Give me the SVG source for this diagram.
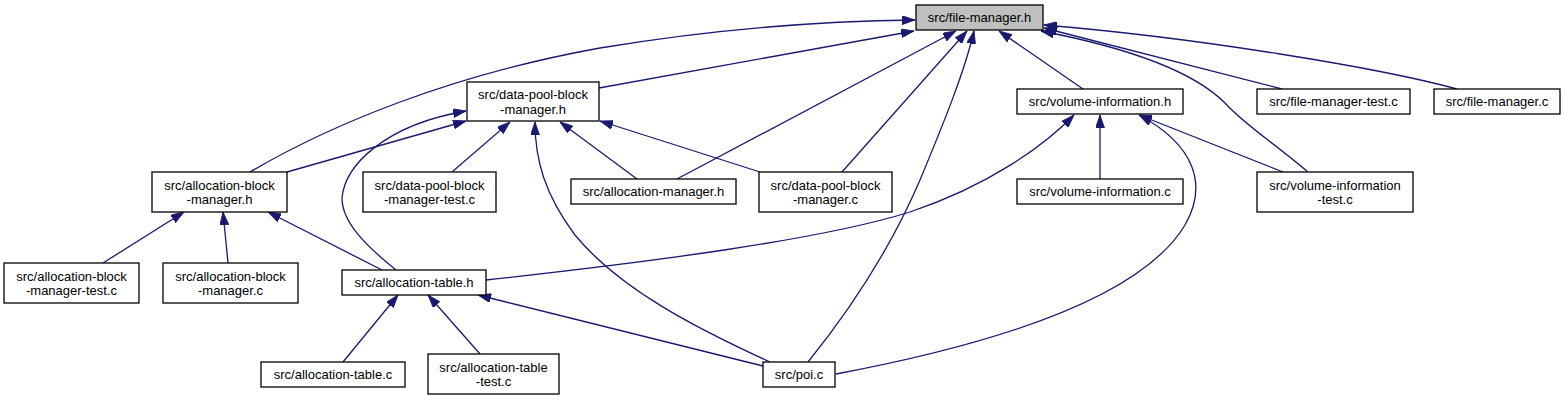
<svg xmlns="http://www.w3.org/2000/svg" width="1565" height="400" viewBox="0 0 1565 400">
<style>
.n rect{fill:#ffffff;stroke:#000000;stroke-width:1.3}
.n.hl rect{fill:#bfbfbf}
.n text{font-family:"Liberation Sans",Arial,sans-serif;font-size:13px;fill:#000000;text-anchor:middle}
.e path{fill:none;stroke:#191970;stroke-width:1.3;marker-end:url(#ah)}
</style>
<defs>
<marker id="ah" markerUnits="userSpaceOnUse" viewBox="0 0 13 9" refX="13" refY="4.5" markerWidth="13" markerHeight="9" orient="auto">
<path d="M0,0 L13,4.5 L0,9 z" fill="#191970" stroke="#191970" stroke-width="0.8"/>
</marker>
</defs>
<rect width="1565" height="400" fill="#ffffff"/>
<g id="edges" class="e">
<path d="M599,88 L914,31"/>
<path d="M250,172 C330,125 450,75 600,48 C720,28 830,21 915,20"/>
<path d="M677,179 L956,31"/>
<path d="M842,172 L967,31"/>
<path d="M808,362 C850,310 890,250 920,180 C945,120 965,70 974,31"/>
<path d="M1083,89 L999,31"/>
<path d="M1282,89 L1044,28"/>
<path d="M1457,89 C1380,68 1200,38 1044,25"/>
<path d="M1308,172 C1270,140 1245,125 1225,103 C1200,78 1150,52 1041,31"/>
<path d="M287,172 L466,121"/>
<path d="M452,172 L510,122"/>
<path d="M637,179 L560,122"/>
<path d="M760,172 L600,121"/>
<path d="M396,270 C365,245 342,222 342,198 C345,165 385,125 466,111"/>
<path d="M770,362 C700,330 620,290 575,235 C545,195 535,160 535,122"/>
<path d="M1100,179 L1100,115"/>
<path d="M486,280 C650,262 820,240 910,212 C990,185 1045,145 1074,115"/>
<path d="M1283,172 L1139,115"/>
<path d="M836,374 C990,345 1140,300 1185,225 C1208,185 1195,145 1139,115"/>
<path d="M103,263 L184,212"/>
<path d="M228,263 L223,212"/>
<path d="M382,270 L268,212"/>
<path d="M343,362 L398,295"/>
<path d="M480,354 L428,295"/>
<path d="M763,366 L478,295"/>
</g>
<g id="file-manager-h" class="n hl"><rect x="916" y="5" width="127" height="25"/><text x="979.5" y="22">src/file-manager.h</text></g>
<g id="data-pool-block-manager-h" class="n"><rect x="467" y="82" width="132" height="39"/><text x="533" y="99">src/data-pool-block</text><text x="533" y="114">-manager.h</text></g>
<g id="volume-information-h" class="n"><rect x="1017" y="89" width="166" height="25"/><text x="1100" y="106">src/volume-information.h</text></g>
<g id="file-manager-test-c" class="n"><rect x="1257" y="89" width="153" height="25"/><text x="1333.5" y="106">src/file-manager-test.c</text></g>
<g id="file-manager-c" class="n"><rect x="1434" y="89" width="126" height="25"/><text x="1497" y="106">src/file-manager.c</text></g>
<g id="allocation-block-manager-h" class="n"><rect x="152" y="172" width="135" height="40"/><text x="219.5" y="189.5">src/allocation-block</text><text x="219.5" y="204">-manager.h</text></g>
<g id="data-pool-block-manager-test-c" class="n"><rect x="363" y="172" width="133" height="40"/><text x="429.5" y="189.5">src/data-pool-block</text><text x="429.5" y="204">-manager-test.c</text></g>
<g id="allocation-manager-h" class="n"><rect x="571" y="179" width="165" height="25"/><text x="653.5" y="196">src/allocation-manager.h</text></g>
<g id="data-pool-block-manager-c" class="n"><rect x="759" y="172" width="133" height="40"/><text x="825.5" y="189.5">src/data-pool-block</text><text x="825.5" y="204">-manager.c</text></g>
<g id="volume-information-c" class="n"><rect x="1017" y="179" width="166" height="25"/><text x="1100" y="196">src/volume-information.c</text></g>
<g id="volume-information-test-c" class="n"><rect x="1257" y="172" width="156" height="40"/><text x="1335" y="189.5">src/volume-information</text><text x="1335" y="204">-test.c</text></g>
<g id="allocation-block-manager-test-c" class="n"><rect x="4" y="263" width="135" height="40"/><text x="71.5" y="280.5">src/allocation-block</text><text x="71.5" y="295">-manager-test.c</text></g>
<g id="allocation-block-manager-c" class="n"><rect x="163" y="263" width="135" height="40"/><text x="230.5" y="280.5">src/allocation-block</text><text x="230.5" y="295">-manager.c</text></g>
<g id="allocation-table-h" class="n"><rect x="342" y="270" width="144" height="25"/><text x="414" y="287">src/allocation-table.h</text></g>
<g id="allocation-table-c" class="n"><rect x="261" y="362" width="144" height="25"/><text x="333" y="379">src/allocation-table.c</text></g>
<g id="allocation-table-test-c" class="n"><rect x="428" y="354" width="131" height="40"/><text x="493.5" y="371.5">src/allocation-table</text><text x="493.5" y="386">-test.c</text></g>
<g id="poi-c" class="n"><rect x="763" y="362" width="72" height="25"/><text x="799" y="379">src/poi.c</text></g>
</svg>
